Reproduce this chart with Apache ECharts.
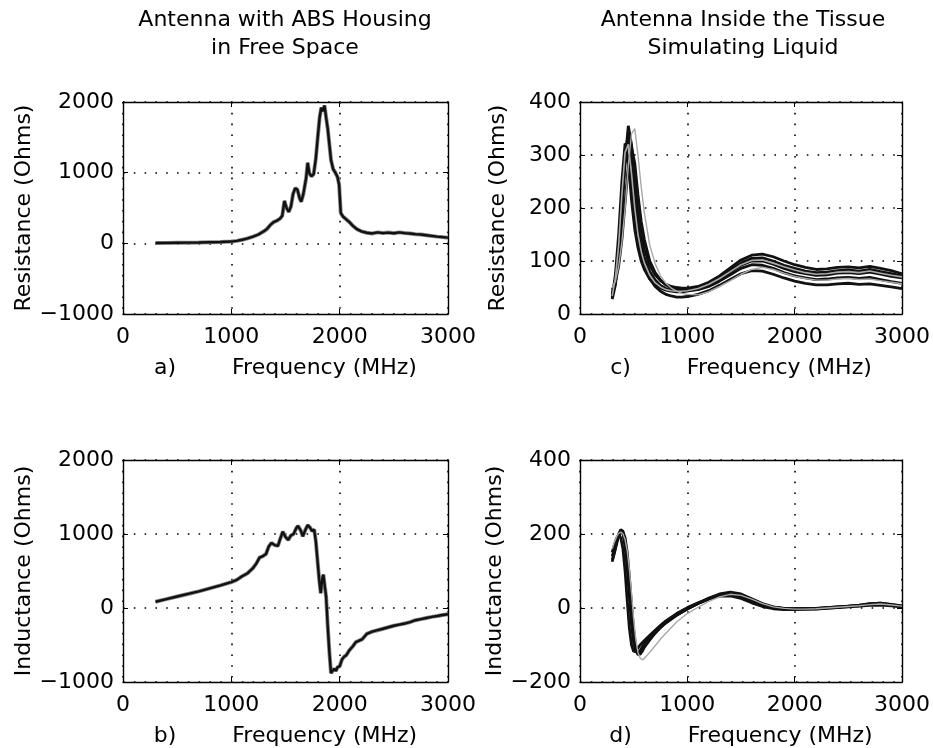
<!DOCTYPE html>
<html>
<head>
<meta charset="utf-8">
<script src="https://cdn.jsdelivr.net/npm/echarts@6/dist/echarts.min.js"></script>
<style>html,body{margin:0;padding:0;background:#fff}#c{width:933px;height:748px}</style>
</head>
<body>
<div id="c"></div>
<script>
// ---- Panel a: Resistance, ABS housing in free space ----
const freqA = [300,400,500,600,700,800,900,1000,1050,1100,1150,1200,1250,1300,1330,1360,1390,1420,1450,1470,1490,1510,1530,1550,1570,1590,1610,1630,1645,1665,1690,1705,1720,1740,1760,1780,1800,1815,1830,1845,1860,1875,1890,1905,1920,1940,1960,1980,1995,2010,2030,2060,2090,2120,2160,2200,2250,2300,2350,2400,2450,2500,2550,2600,2650,2700,2750,2800,2850,2900,2950,3000];
const resistA = [5,6,8,10,12,15,18,25,35,50,70,95,125,170,205,260,300,320,350,390,600,500,445,520,700,780,760,640,590,700,920,1140,990,950,980,1200,1540,1780,1920,1870,1950,1780,1620,1400,1180,1050,1000,940,830,430,380,340,300,250,200,170,150,140,155,145,152,142,155,145,140,130,125,115,105,95,88,80];

// ---- Panel b: Inductance, ABS housing in free space ----
const freqB = [300,400,500,600,700,800,900,1000,1050,1100,1150,1200,1230,1260,1290,1320,1345,1370,1400,1430,1455,1475,1500,1525,1550,1575,1600,1615,1640,1660,1685,1705,1725,1745,1765,1780,1795,1810,1825,1840,1850,1862,1875,1890,1905,1920,1935,1950,1965,1980,2000,2020,2040,2060,2090,2120,2150,2180,2210,2250,2300,2350,2400,2450,2500,2550,2600,2650,2700,2750,2800,2850,2900,2950,3000];
const inductB = [85,120,155,190,225,265,305,350,380,430,470,540,600,680,700,730,830,880,850,840,950,1030,960,920,980,1000,1080,1110,1050,970,1060,1120,1090,1040,1060,900,650,400,200,400,450,300,150,-250,-600,-880,-860,-820,-850,-800,-790,-700,-660,-640,-570,-520,-460,-440,-420,-350,-320,-300,-280,-260,-240,-225,-210,-190,-165,-150,-135,-120,-108,-95,-85];

// ---- Panel c: Resistance, inside tissue simulating liquid ----
const freqC = [300,330,360,390,420,450,480,510,540,570,600,650,700,750,800,850,900,950,1000,1100,1200,1300,1400,1500,1600,1700,1800,1900,2000,2100,2200,2300,2400,2500,2600,2700,2800,2900,3000];
const resistC1 = [35,60,110,190,290,355,320,250,190,150,122,92,74,63,56,52,50,49,49,52,60,72,87,102,111,113,108,100,93,88,84,85,88,89,87,90,86,82,76];
const resistC2 = [30,75,150,250,322,290,215,160,125,100,84,66,56,49,45,43,42,42,43,47,55,66,79,92,100,100,94,86,80,76,73,74,77,78,76,79,75,71,68];
const resistC3 = [45,60,90,140,210,280,315,285,225,175,140,100,78,64,55,49,46,44,44,46,52,62,74,86,93,92,86,78,72,68,65,66,68,69,67,69,65,61,58];
const resistC4 = [28,55,120,215,285,300,250,185,140,110,88,66,52,43,37,34,32,32,33,37,44,54,65,76,82,81,75,68,62,58,55,55,57,58,56,57,54,51,48];
const resistC5 = [38,65,115,200,295,340,300,230,170,132,106,80,64,54,48,45,44,44,45,49,57,69,83,96,105,106,100,92,86,81,78,79,82,83,81,84,80,76,72];
const resistC6 = [50,62,90,135,200,280,340,350,300,240,190,130,95,72,58,49,43,39,37,36,42,52,63,75,84,88,84,77,71,67,64,64,66,67,65,66,63,60,57];
const resistC7 = [34,68,130,225,305,320,265,200,150,118,96,73,59,51,46,44,43,43,44,48,56,67,80,93,101,102,96,89,83,78,75,76,79,80,78,81,77,73,70];

// ---- Panel d: Inductance, inside tissue simulating liquid ----
const freqD = [300,320,340,360,380,400,420,440,460,480,500,520,540,560,580,600,650,700,750,800,900,1000,1100,1200,1300,1400,1500,1600,1700,1800,1900,2000,2100,2200,2300,2400,2500,2600,2700,2800,2900,3000];
const inductD1 = [130,150,172,195,210,200,165,105,30,-45,-95,-118,-122,-115,-105,-97,-80,-64,-50,-38,-18,-2,12,24,34,38,32,20,8,1,-2,-3,-3,-2,0,2,4,6,9,10,7,4];
const inductD2 = [140,158,178,195,204,205,190,150,85,10,-60,-105,-122,-125,-117,-106,-86,-68,-53,-40,-19,-2,13,27,38,43,38,25,12,3,-1,-2,-1,-1,1,3,5,7,11,13,9,5];
const inductD3 = [150,170,188,198,190,160,100,20,-55,-100,-118,-115,-108,-100,-94,-88,-74,-60,-47,-35,-15,1,14,25,32,33,26,14,4,-2,-4,-4,-3,-3,-1,1,3,5,7,8,6,3];
const inductD4 = [125,148,175,200,212,208,182,130,60,-15,-78,-112,-126,-124,-114,-104,-84,-67,-52,-40,-20,-3,12,25,36,41,36,23,10,2,-1,-2,-2,-1,1,3,5,8,12,13,10,6];
const inductD5 = [160,178,192,202,205,200,185,155,105,40,-30,-85,-120,-135,-140,-136,-120,-102,-84,-68,-38,-15,2,18,30,37,34,24,12,3,-1,-3,-3,-2,0,2,4,6,9,11,8,5];

// ---- Text ----
const titleLeft = 'Antenna with ABS Housing\nin Free Space';
const titleRight = 'Antenna Inside the Tissue\nSimulating Liquid';
const xNames = ['a)', 'c)', 'b)', 'd)'];
const xLabel = 'Frequency (MHz)';
const yLabelR = 'Resistance (Ohms)';
const yLabelL = 'Inductance (Ohms)';

const FONT = 'DejaVu Sans';
const FS = 22;
const zip = (xs, ys) => xs.map((x, i) => [x, ys[i]]);
const fmt = v => v < 0 ? '\u2212' + Math.abs(v) : String(v);

const grids = [
  {left: 123, top: 102, width: 325, height: 212},
  {left: 580, top: 102, width: 325, height: 212},
  {left: 123, top: 460, width: 325, height: 222},
  {left: 580, top: 460, width: 325, height: 222}
];
const yCfg = [
  {min: -1000, max: 2000, interval: 1000, name: yLabelR, gap: 80},
  {min: 0, max: 400, interval: 100, name: yLabelR, gap: 71},
  {min: -1000, max: 2000, interval: 1000, name: yLabelL, gap: 80},
  {min: -200, max: 400, interval: 200, name: yLabelL, gap: 71}
];

const dotted = {color: '#000', width: 1.6, type: [1.6, 9.2]};
const axLine = {show: true, onZero: false, lineStyle: {color: '#000', width: 1.4}};
const tick = {show: true, inside: true, length: 5, lineStyle: {color: '#000', width: 1}};
const txt = {color: '#000', fontFamily: FONT, fontSize: FS};

const xAxis = [], yAxis = [];
grids.forEach((g, i) => {
  xAxis.push({
    type: 'value', gridIndex: i, min: 0, max: 3000, interval: 1000, position: 'bottom',
    axisLine: axLine, axisTick: tick,
    axisLabel: Object.assign({margin: 12, formatter: fmt}, txt),
    splitLine: {show: true, lineStyle: dotted},
    name: xNames[i] + '        ' + xLabel, nameLocation: 'middle', nameGap: 43,
    nameTextStyle: txt
  });
  xAxis.push({
    type: 'value', gridIndex: i, min: 0, max: 3000, interval: 1000, position: 'top',
    axisLine: axLine, axisTick: tick, axisLabel: {show: false}, splitLine: {show: false}
  });
  const c = yCfg[i];
  yAxis.push({
    type: 'value', gridIndex: i, min: c.min, max: c.max, interval: c.interval, position: 'left',
    axisLine: axLine, axisTick: tick,
    axisLabel: Object.assign({margin: 9, formatter: fmt}, txt),
    splitLine: {show: true, lineStyle: dotted},
    name: c.name, nameLocation: 'middle', nameGap: c.gap, nameRotate: 90,
    nameTextStyle: txt
  });
  yAxis.push({
    type: 'value', gridIndex: i, min: c.min, max: c.max, interval: c.interval, position: 'right',
    axisLine: axLine, axisTick: tick, axisLabel: {show: false}, splitLine: {show: false}
  });
});

function line(gi, xs, ys, color, width, z) {
  return {
    type: 'line', xAxisIndex: gi * 2, yAxisIndex: gi * 2, data: zip(xs, ys),
    showSymbol: false, symbol: 'none', clip: true, z: z || 2,
    lineStyle: {color: color, width: width}, silent: true
  };
}
const BLACK = '#111';
const GRAY = '#a8a8a8';
const series = [
  line(0, freqA, resistA, '#888', 4, 1),
  line(0, freqA, resistA, BLACK, 2.4, 2),
  line(2, freqB, inductB, '#888', 4, 1),
  line(2, freqB, inductB, BLACK, 2.4, 2),
  line(1, freqC, resistC1, BLACK, 2.8),
  line(1, freqC, resistC2, BLACK, 2.8),
  line(1, freqC, resistC3, BLACK, 2.8),
  line(1, freqC, resistC4, BLACK, 2.8),
  line(1, freqC, resistC5, BLACK, 2.8),
  line(1, freqC, resistC7, GRAY, 1.6, 3),
  line(1, freqC, resistC6, GRAY, 1.4, 3),
  line(3, freqD, inductD1, BLACK, 2.8),
  line(3, freqD, inductD2, BLACK, 2.8),
  line(3, freqD, inductD3, BLACK, 2.8),
  line(3, freqD, inductD4, BLACK, 2.8),
  line(3, freqD, inductD5, GRAY, 1.4, 3)
];

const chart = echarts.init(document.getElementById('c'), null, {renderer: 'canvas'});
chart.setOption({
  animation: false,
  backgroundColor: '#fff',
  grid: grids.map(g => Object.assign({containLabel: false}, g)),
  xAxis: xAxis,
  yAxis: yAxis,
  series: series,
  graphic: [
    {type: 'text', x: 285, y: 6, style: {text: titleLeft, align: 'center', verticalAlign: 'top', fill: '#000', font: FS + 'px "' + FONT + '"', lineHeight: 28}},
    {type: 'text', x: 743, y: 6, style: {text: titleRight, align: 'center', verticalAlign: 'top', fill: '#000', font: FS + 'px "' + FONT + '"', lineHeight: 28}}
  ]
});
</script>
</body>
</html>
